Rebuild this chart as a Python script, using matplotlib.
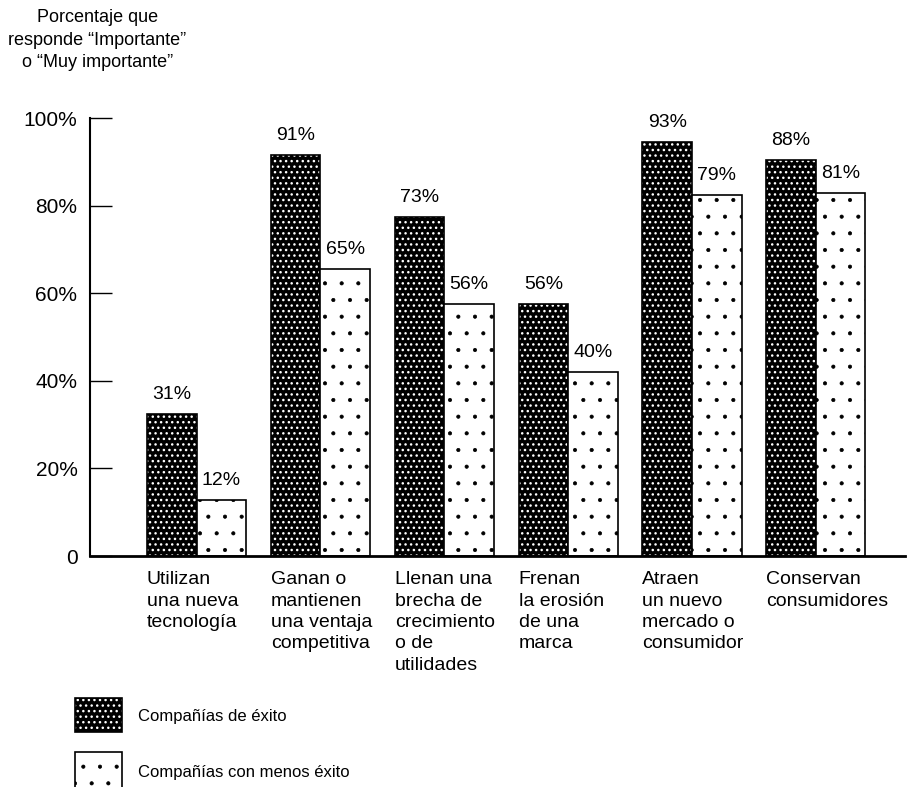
import matplotlib
matplotlib.use("Agg")
import matplotlib.pyplot as plt
from matplotlib.patches import Rectangle
import numpy as np

plt.rcParams['font.family'] = ['Liberation Sans', 'DejaVu Sans']

# categorías y valores
categorias = [
    "Utilizan\nuna nueva\ntecnología",
    "Ganan o\nmantienen\nuna ventaja\ncompetitiva",
    "Llenan una\nbrecha de\ncrecimiento\no de\nutilidades",
    "Frenan\nla erosión\nde una\nmarca",
    "Atraen\nun nuevo\nmercado o\nconsumidor",
    "Conservan\nconsumidores",
]
exito_etiqueta = [31, 91, 73, 56, 93, 88]
menos_etiqueta = [12, 65, 56, 40, 79, 81]
# altura dibujada de las barras
exito_altura = [32.5, 91.5, 77.5, 57.5, 94.5, 90.5]
menos_altura = [12.8, 65.5, 57.5, 42, 82.5, 83]
ticks_y = [0, 20, 40, 60, 80, 100]
ticks_txt = ["0", "20%", "40%", "60%", "80%", "100%"]

x = np.arange(len(categorias))
w = 0.4

fig = plt.figure(figsize=(9.09, 7.87), dpi=100)
ax = fig.add_axes([0.099, 0.2935, 0.8966, 0.5565])

# barras oscuras: fondo negro con puntos blancos
plt.rcParams['hatch.linewidth'] = 1.0
ax.bar(x - w / 2, exito_altura, w, color="black", edgecolor="white",
       hatch="...", linewidth=0)
ax.bar(x - w / 2, exito_altura, w, fill=False, edgecolor="black", linewidth=1.2)
# barras claras: blanco con puntos negros
plt.rcParams['hatch.linewidth'] = 0.5
ax.bar(x + w / 2, menos_altura, w, color="white", edgecolor="black",
       hatch=".", linewidth=1.2)

for xi, h, t in zip(x - w / 2, exito_altura, exito_etiqueta):
    ax.text(xi, h + 2.5, f"{t}%", ha="center", va="bottom", fontsize=14)
for xi, h, t in zip(x + w / 2, menos_altura, menos_etiqueta):
    ax.text(xi, h + 2.5, f"{t}%", ha="center", va="bottom", fontsize=14)

ax.set_xlim(-0.86, 5.72)
ax.set_ylim(0, 100)
ax.set_yticks(ticks_y)
ax.set_yticklabels(ticks_txt, fontsize=15)
ax.tick_params(axis="y", direction="in", length=16, width=1, pad=9)
ax.set_xticks([])
for s in ["top", "right"]:
    ax.spines[s].set_visible(False)
ax.spines["left"].set_linewidth(1.5)
ax.spines["bottom"].set_linewidth(2)

for xi, c in zip(x - w, categorias):
    ax.text(xi, -3.5, c, ha="left", va="top", fontsize=14, linespacing=1.33)

fig.text(0.107, 0.988, "Porcentaje que\nresponde \u201cImportante\u201d\no \u201cMuy importante\u201d",
         ha="center", va="top", fontsize=13, linespacing=1.4)

# leyenda manual
plt.rcParams['hatch.linewidth'] = 1.0
r1 = Rectangle((0.083, 0.070), 0.051, 0.043, transform=fig.transFigure,
               facecolor="black", edgecolor="white", hatch="...", linewidth=0)
r1b = Rectangle((0.083, 0.070), 0.051, 0.043, transform=fig.transFigure,
                fill=False, edgecolor="black", linewidth=1.2)
plt.rcParams['hatch.linewidth'] = 0.5
r2 = Rectangle((0.083, -0.01), 0.051, 0.054, transform=fig.transFigure,
               facecolor="white", edgecolor="black", hatch=".", linewidth=1.2)
for r in (r1, r1b, r2):
    fig.patches.append(r)
fig.text(0.152, 0.090, "Compañías de éxito", ha="left", va="center", fontsize=12)
fig.text(0.152, 0.018, "Compañías con menos éxito", ha="left", va="center", fontsize=12)

fig.savefig("out.png", dpi=100)
